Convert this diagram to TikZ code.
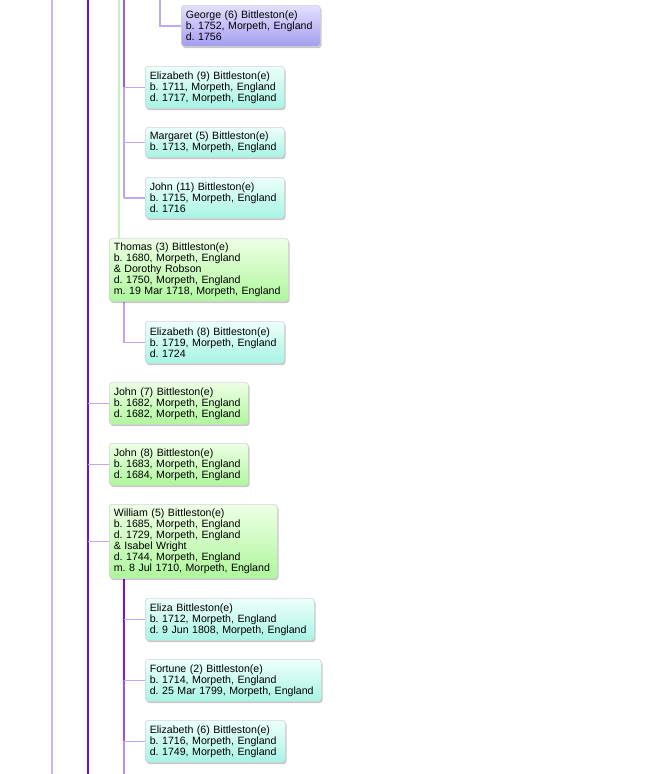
\documentclass[tikz,border=0pt]{standalone}
\usepackage{fontspec}
\setmainfont{Liberation Sans}
\usetikzlibrary{shadows,backgrounds}
\definecolor{lineLeft}{HTML}{C8B2F2}
\definecolor{lineDark}{HTML}{6A0EE0}
\definecolor{lineGreen}{HTML}{C6F2BE}
\definecolor{conn}{HTML}{C0A8F0}
\definecolor{segA}{HTML}{9A5CE6}
\definecolor{segB}{HTML}{C0A4F0}
\definecolor{segW1}{HTML}{7010E0}
\definecolor{segW2}{HTML}{7A1CE2}
\definecolor{segW3}{HTML}{9A4EE8}
\definecolor{segW4}{HTML}{B892F0}
\definecolor{lavTop}{HTML}{E2DFFF}
\definecolor{lavBot}{HTML}{A59DF0}
\definecolor{cyTop}{HTML}{EEFFFB}
\definecolor{cyBot}{HTML}{A6F4E4}
\definecolor{grTop}{HTML}{EEFFE6}
\definecolor{grBot}{HTML}{AEF79C}
\definecolor{boxBorder}{HTML}{D4D4D4}
\frenchspacing
\hyphenpenalty=10000
\exhyphenpenalty=10000
\hbadness=10000
\hfuzz=20pt
\tikzset{
  x=1pt, y=1pt,
  person/.style={draw=boxBorder, line width=0.6pt, rounded corners=3pt,
    anchor=north west, align=left, inner xsep=4.5pt, inner ysep=0pt,
    font=\fontsize{10.6}{11}\selectfont,
    drop shadow={shadow xshift=1.2pt, shadow yshift=-1.8pt, opacity=0.22, fill=black}},
  lavbox/.style={person, top color=lavTop, bottom color=lavBot},
  cybox/.style={person, top color=cyTop, bottom color=cyBot},
  grbox/.style={person, top color=grTop, bottom color=grBot},
  connline/.style={draw=conn, line width=1.5pt},
}
\newcommand\plinebox[1]{\mbox{#1}}
\begin{document}
\begin{tikzpicture}
\useasboundingbox (0,0) rectangle (659,-774);

% boxes
\node[lavbox, text width=130, minimum height=41] (george) at (181,-5)
  {George (6) Bittleston(e)\\b. 1752, Morpeth, England\\d. 1756};
\node[cybox, text width=130, minimum height=42] (eliz9) at (145,-66)
  {Elizabeth (9) Bittleston(e)\\\plinebox{b. 1711, Morpeth, England}\\\plinebox{d. 1717, Morpeth, England}};
\node[cybox, text width=130, minimum height=30] (marg) at (145,-127)
  {Margaret (5) Bittleston(e)\\\plinebox{b. 1713, Morpeth, England}};
\node[cybox, text width=130, minimum height=41] (john11) at (145,-177)
  {John (11) Bittleston(e)\\\plinebox{b. 1715, Morpeth, England}\\d. 1716};
\node[grbox, text width=170, minimum height=63] (thomas) at (109,-238)
  {Thomas (3) Bittleston(e)\\b. 1680, Morpeth, England\\\& Dorothy Robson\\d. 1750, Morpeth, England\\\plinebox{m. 19 Mar 1718, Morpeth, England}};
\node[cybox, text width=130, minimum height=42] (eliz8) at (145,-321)
  {Elizabeth (8) Bittleston(e)\\\plinebox{b. 1719, Morpeth, England}\\d. 1724};
\node[grbox, text width=130, minimum height=42] (john7) at (109,-382)
  {John (7) Bittleston(e)\\\plinebox{b. 1682, Morpeth, England}\\\plinebox{d. 1682, Morpeth, England}};
\node[grbox, text width=130, minimum height=42] (john8) at (109,-443)
  {John (8) Bittleston(e)\\\plinebox{b. 1683, Morpeth, England}\\\plinebox{d. 1684, Morpeth, England}};
\node[grbox, text width=159, minimum height=74] (william) at (109,-504)
  {William (5) Bittleston(e)\\b. 1685, Morpeth, England\\d. 1729, Morpeth, England\\\& Isabel Wright\\d. 1744, Morpeth, England\\\plinebox{m. 8 Jul 1710, Morpeth, England}};
\node[cybox, text width=160, minimum height=42] (eliza) at (145,-598)
  {Eliza Bittleston(e)\\b. 1712, Morpeth, England\\\plinebox{d. 9 Jun 1808, Morpeth, England}};
\node[cybox, text width=167, minimum height=42] (fortune) at (145,-659)
  {Fortune (2) Bittleston(e)\\b. 1714, Morpeth, England\\\plinebox{d. 25 Mar 1799, Morpeth, England}};
\node[cybox, text width=131, minimum height=42] (eliz6) at (145,-720)
  {Elizabeth (6) Bittleston(e)\\\plinebox{b. 1716, Morpeth, England}\\\plinebox{d. 1749, Morpeth, England}};

% free line ends
\coordinate (leftTop) at (52,0);
\coordinate (leftBot) at (52,-774);
\coordinate (darkTop) at (88,0);
\coordinate (darkBot) at (88,-774);
\coordinate (greenTop) at (119,0);
\coordinate (midTop) at (124,0);
\coordinate (midBot) at (124,-774);
\coordinate (geoTop) at (160,0);

\begin{scope}[on background layer]
% long vertical lines
\draw[lineLeft, line width=2pt] (leftTop) -- (leftBot);
\draw[lineDark, line width=2.4pt] (darkTop) -- (darkBot);
\draw[lineGreen, line width=2pt] (greenTop) -- (greenTop |- thomas.north);

% George
\draw[connline] (geoTop) |- (george.west);

% children of upper family at x=124
\draw[segA, line width=2pt] (midTop) -- (midTop |- eliz9.west);
\draw[segB, line width=2pt] (midTop |- eliz9.west) -- (midTop |- john11.west);
\draw[connline] (midTop |- eliz9.west) -- (eliz9.west);
\draw[connline] (midTop |- marg.west) -- (marg.west);
\draw[connline] (midTop |- john11.west) -- (john11.west);

% Thomas's child
\draw[connline] (midTop |- thomas.south) |- (eliz8.west);

% siblings on dark line
\draw[connline] (darkTop |- john7.west) -- (john7.west);
\draw[connline] (darkTop |- john8.west) -- (john8.west);
\draw[connline] (darkTop |- william.west) -- (william.west);

% William's children
\draw[segW1, line width=2.2pt] (midTop |- william.south) -- (midTop |- eliza.west);
\draw[segW2, line width=2.2pt] (midTop |- eliza.west) -- (midTop |- fortune.west);
\draw[segW3, line width=2.2pt] (midTop |- fortune.west) -- (midTop |- eliz6.west);
\draw[segW4, line width=2.2pt] (midTop |- eliz6.west) -- (midBot);
\draw[connline] (midTop |- eliza.west) -- (eliza.west);
\draw[connline] (midTop |- fortune.west) -- (fortune.west);
\draw[connline] (midTop |- eliz6.west) -- (eliz6.west);
\end{scope}
\end{tikzpicture}
\end{document}
